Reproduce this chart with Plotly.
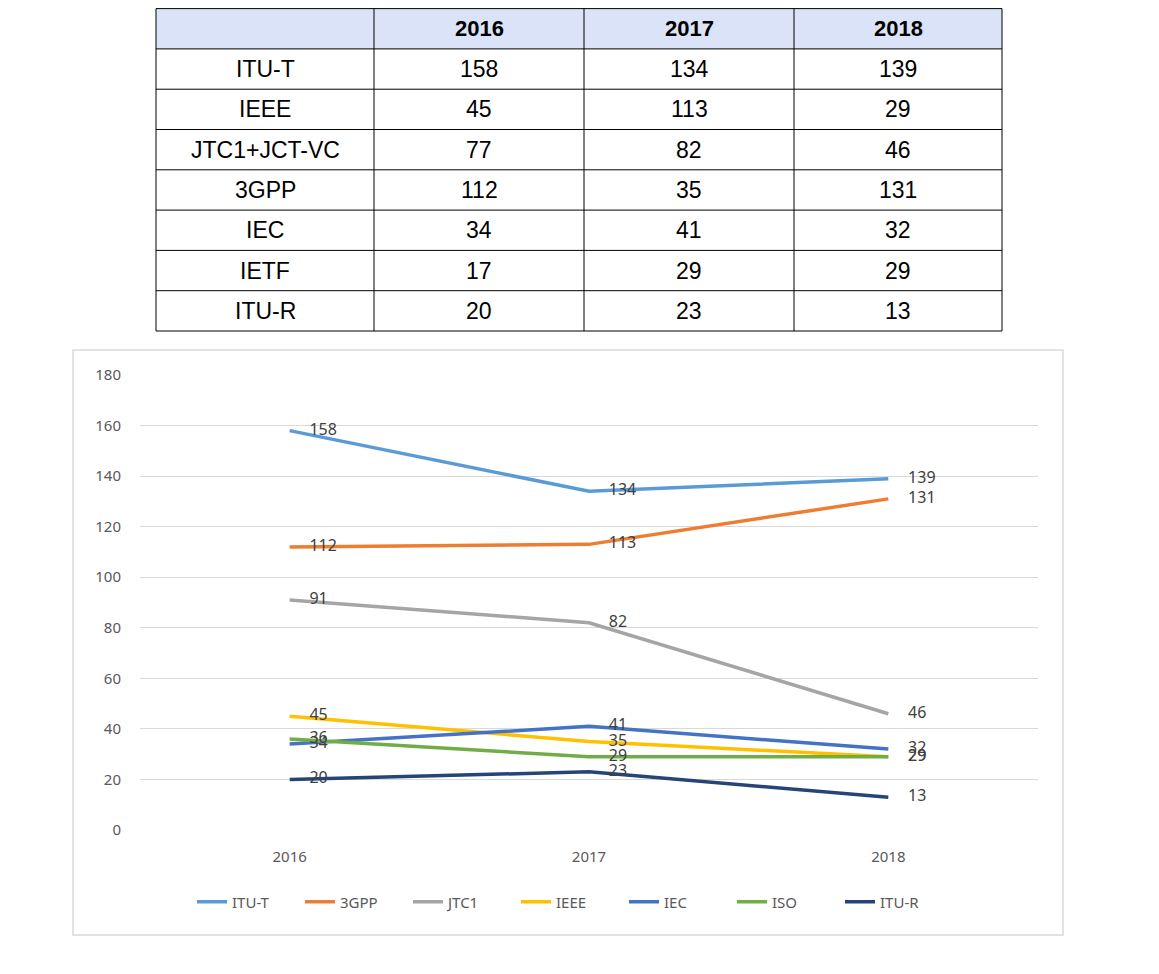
import plotly.graph_objects as go

W, H = 1159, 974
OFF = 8  # page body margin

# Table data
table_header = ["", "2016", "2017", "2018"]
table_orgs = ["ITU-T", "IEEE", "JTC1+JCT-VC", "3GPP", "IEC", "IETF", "ITU-R"]
table_2016 = [158, 45, 77, 112, 34, 17, 20]
table_2017 = [134, 113, 82, 35, 41, 29, 23]
table_2018 = [139, 29, 46, 131, 32, 29, 13]

# Chart data
years = ["2016", "2017", "2018"]
itu_t = [158, 134, 139]
gpp3 = [112, 113, 131]
jtc1 = [91, 82, 46]
ieee = [45, 35, 29]
iec = [34, 41, 32]
iso = [36, 29, 29]
itu_r = [20, 23, 13]

series = [
    ("ITU-T", itu_t, "#5B9BD5"),
    ("3GPP", gpp3, "#ED7D31"),
    ("JTC1", jtc1, "#A5A5A5"),
    ("IEEE", ieee, "#FFC000"),
    ("IEC", iec, "#4472C4"),
    ("ISO", iso, "#70AD47"),
    ("ITU-R", itu_r, "#264478"),
]

def px(xp):
    return (xp - OFF) / W

def py(yp):
    return 1 - (yp - OFF) / H

fig = go.Figure()

# ---- Table drawn with shapes + annotations ----
col_edges = [156, 374, 584, 794, 1002]
n_rows = len(table_orgs) + 1
row_top, row_bottom = 8.6, 331
row_h = (row_bottom - row_top) / n_rows
row_edges = [row_top + i * row_h for i in range(n_rows + 1)]

shapes = []
annotations = []
tfont = "Liberation Sans, Arial, sans-serif"

shapes.append(dict(type="rect", xref="paper", yref="paper",
                   x0=px(col_edges[0]), x1=px(col_edges[-1]),
                   y0=py(row_edges[1]), y1=py(row_edges[0]),
                   fillcolor="#DAE3F7", line=dict(width=0), layer="below"))
for ye in row_edges:
    shapes.append(dict(type="line", xref="paper", yref="paper",
                       x0=px(col_edges[0]), x1=px(col_edges[-1]),
                       y0=py(ye), y1=py(ye), line=dict(color="black", width=1)))
for xe in col_edges:
    shapes.append(dict(type="line", xref="paper", yref="paper",
                       x0=px(xe), x1=px(xe),
                       y0=py(row_edges[-1]), y1=py(row_edges[0]),
                       line=dict(color="black", width=1)))

columns = [table_orgs, table_2016, table_2017, table_2018]
for c in range(4):
    xc = (col_edges[c] + col_edges[c + 1]) / 2
    if table_header[c]:
        annotations.append(dict(xref="paper", yref="paper", x=px(xc),
                                y=py((row_edges[0] + row_edges[1]) / 2),
                                text="<b>%s</b>" % table_header[c], showarrow=False,
                                xanchor="center", yanchor="middle",
                                font=dict(family=tfont, size=22, color="black")))
    for r, v in enumerate(columns[c]):
        yc = (row_edges[r + 1] + row_edges[r + 2]) / 2
        annotations.append(dict(xref="paper", yref="paper", x=px(xc), y=py(yc),
                                text=str(v), showarrow=False,
                                xanchor="center", yanchor="middle",
                                font=dict(family=tfont, size=23, color="black")))

# ---- Line chart ----
for name, vals, color in series:
    fig.add_trace(go.Scatter(
        x=years, y=vals, name=name,
        mode="lines+markers+text",
        line=dict(color=color, width=3.5),
        marker=dict(size=30, color="rgba(0,0,0,0)"),
        text=[str(v) for v in vals],
        textposition="middle right",
        textfont=dict(family="Noto Sans, sans-serif", size=16, color="#404040"),
        cliponaxis=False,
        hoverinfo="x+y+name",
    ))

shapes.append(dict(
    type="rect", xref="paper", yref="paper",
    x0=px(73), x1=px(1063), y0=py(935), y1=py(350),
    line=dict(color="#D9D9D9", width=1.5),
    fillcolor="rgba(0,0,0,0)", layer="below",
))

fig.update_layout(
    width=W, height=H,
    margin=dict(l=0, r=0, t=0, b=0, autoexpand=False),
    paper_bgcolor="white",
    plot_bgcolor="white",
    font=dict(family="Noto Sans, sans-serif", size=14, color="#595959"),
    xaxis=dict(
        domain=[px(140), px(1038)],
        type="category",
        range=[-0.5, 2.5],
        showgrid=False, zeroline=False, showline=False,
        ticks="", tickfont=dict(size=15, color="#595959"),
        ticklabelstandoff=16,
        anchor="y",
    ),
    yaxis=dict(
        domain=[py(830), py(375)],
        range=[0, 180],
        dtick=20,
        showgrid=True, gridcolor="#D9D9D9", gridwidth=1,
        zeroline=False, showline=False,
        ticks="", tickfont=dict(size=15, color="#595959"),
        ticklabelstandoff=18,
        anchor="x",
    ),
    showlegend=True,
    legend=dict(
        orientation="h",
        x=px(570), xanchor="center",
        y=py(902), yanchor="middle",
        font=dict(size=15, color="#595959"),
        bgcolor="rgba(0,0,0,0)",
        itemwidth=30,
        entrywidth=63,
        entrywidthmode="pixels",
        tracegroupgap=0,
    ),
    shapes=shapes,
    annotations=annotations,
)

fig.write_html("out.html")
